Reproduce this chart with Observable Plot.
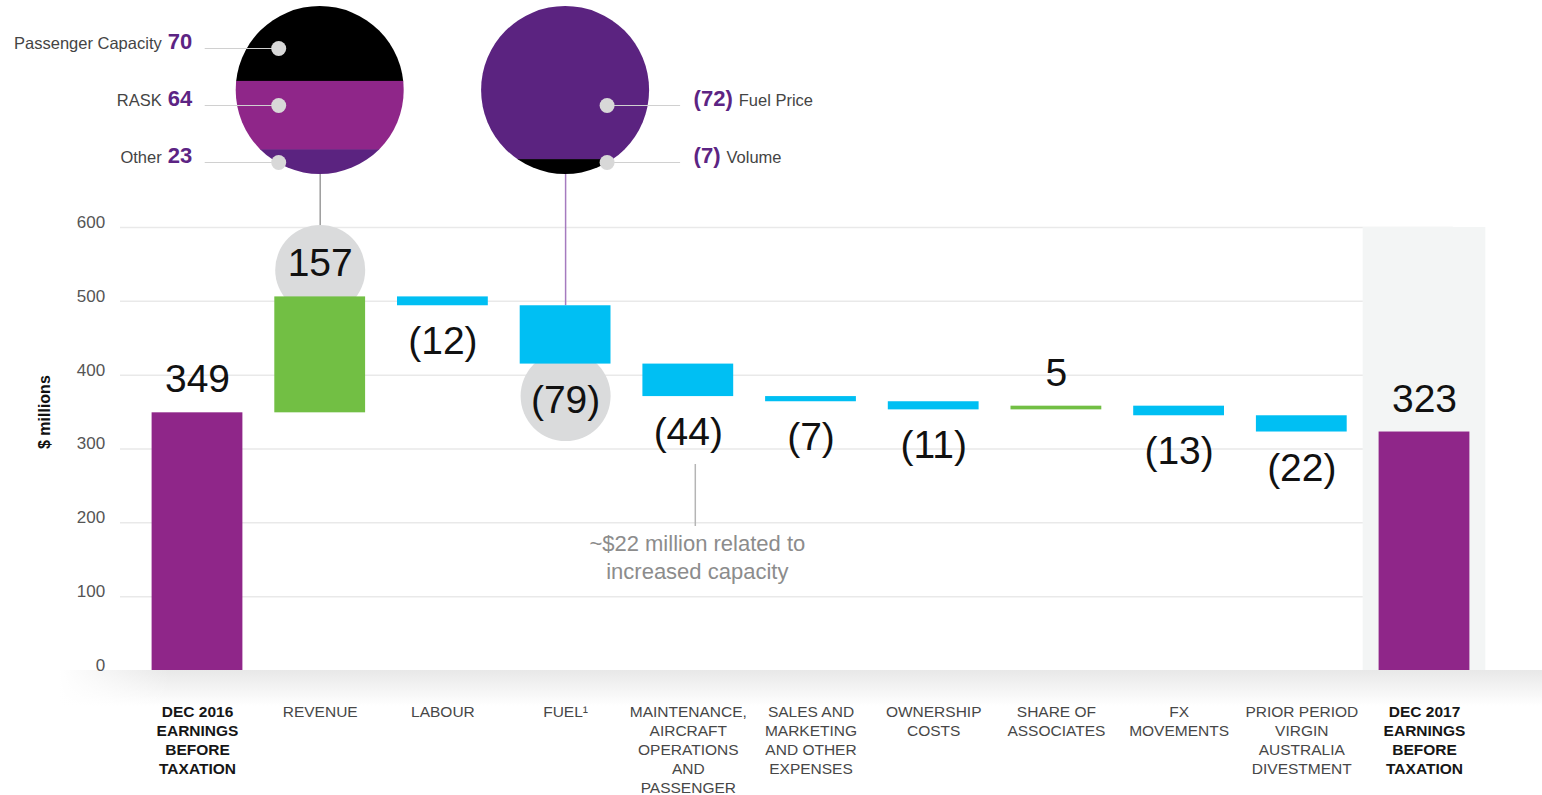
<!DOCTYPE html>
<html>
<head>
<meta charset="utf-8">
<script src="https://cdn.jsdelivr.net/npm/d3@7"></script>
<script src="https://cdn.jsdelivr.net/npm/@observablehq/plot@0.6"></script>
<style>
  html, body { margin: 0; padding: 0; background: #fff; }
  #chart { width: 1542px; height: 795px; overflow: hidden; }
</style>
</head>
<body>
<div id="chart"></div>
<script>
// ---------------- DATA ----------------
const categories = [
  "DEC 2016\nEARNINGS\nBEFORE\nTAXATION",
  "REVENUE",
  "LABOUR",
  "FUEL¹",
  "MAINTENANCE,\nAIRCRAFT\nOPERATIONS\nAND\nPASSENGER",
  "SALES AND\nMARKETING\nAND OTHER\nEXPENSES",
  "OWNERSHIP\nCOSTS",
  "SHARE OF\nASSOCIATES",
  "FX\nMOVEMENTS",
  "PRIOR PERIOD\nVIRGIN\nAUSTRALIA\nDIVESTMENT",
  "DEC 2017\nEARNINGS\nBEFORE\nTAXATION"
];
const kinds = ["total","delta","delta","delta","delta","delta","delta","delta","delta","delta","total"];
const values = [349, 157, -12, -79, -44, -7, -11, 5, -13, -22, 323];
const yTicks = [0, 100, 200, 300, 400, 500, 600];
const circledCategories = ["REVENUE", "FUEL¹"];

const revenueParts = ["Passenger Capacity", "RASK", "Other"];
const revenueValues = [70, 64, 23];
const fuelParts = ["Fuel Price", "Volume"];
const fuelValues = [-72, -7];

const yAxisLabel = "$ millions";
const annotationText = "~$22 million related to\nincreased capacity";
const annotationCategory = categories[4];

// ---------------- LAYOUT / STYLE ----------------
const W = 1542, H = 795;
const ML = 135.65, MR = 56.65, MT = 227, MB = 125;
const PAD = 0.26;
const FONT = "'Liberation Sans', Arial, Helvetica, sans-serif";
const C = {
  total: "#8f2689", pos: "#72bf44", neg: "#00bff3",
  black: "#000000", magenta: "#8f2689", purple: "#5b2380",
  circle: "#dadbdc", grid: "#e9e9e9", tick: "#555555",
  highlight: "#f3f5f5", dot: "#d8d8d8", rowLine: "#d0d0d0",
  valuePurple: "#5c2483"
};
const yS = d3.scaleLinear().domain([0, 600]).range([H - MB, MT]);
const step = (W - ML - MR) / categories.length;
const bw = step * (1 - PAD);
const BUBBLE_CY = 90, BUBBLE_R = 84, ROW_PX = [48, 105, 162];

// ---------------- DERIVED ----------------
let run = 0;
const rows = categories.map((cat, i) => {
  const v = values[i], kind = kinds[i];
  let a, b;
  if (kind === "total") { a = 0; b = v; run = v; }
  else { a = run; b = run + v; run = b; }
  return {cat, v, kind, lo: Math.min(a, b), hi: Math.max(a, b),
    label: v < 0 ? `(${-v})` : `${v}`,
    color: kind === "total" ? C.total : v >= 0 ? C.pos : C.neg};
});
const rowOf = c => rows.find(r => r.cat === c);

const bubbles = [
  {cat: categories[1], parts: revenueParts, vals: revenueValues,
   colors: [C.black, C.magenta, C.purple], side: -1, rowIdx: [0, 1, 2], link: "#9b9b9b"},
  {cat: categories[3], parts: fuelParts, vals: fuelValues,
   colors: [C.purple, C.black], side: 1, rowIdx: [1, 2], link: "#a57bbf"}
];

const stripes = [];
bubbles.forEach((b, k) => {
  const tot = d3.sum(b.vals, Math.abs);
  let acc = 0;
  b.vals.forEach((v, j) => {
    const t = BUBBLE_CY - BUBBLE_R + acc / tot * 2 * BUBBLE_R;
    acc += Math.abs(v);
    const bt = BUBBLE_CY - BUBBLE_R + acc / tot * 2 * BUBBLE_R;
    stripes.push({cat: b.cat, k, y1: yS.invert(bt + (j < b.vals.length - 1 ? 0.5 : 0)), y2: yS.invert(t), color: b.colors[j]});
  });
});

const ctx = document.createElement("canvas").getContext("2d");
ctx.font = `bold 22px ${FONT}`;

const rowItems = bubbles.flatMap(b => b.parts.map((p, j) => ({
  cat: b.cat, side: b.side, name: p,
  valueText: b.vals[j] < 0 ? `(${-b.vals[j]})` : `${b.vals[j]}`,
  y: yS.invert(ROW_PX[b.rowIdx[j]])
})));

const connectors = bubbles.map(b => ({cat: b.cat, y1: yS.invert(BUBBLE_CY + BUBBLE_R), y2: rowOf(b.cat).hi, color: b.link}));

// ---------------- MARKS ----------------
const marks = [];
// floor shadow
marks.push(Plot.rect([0], {y1: () => 0, y2: () => yS.invert(706), fill: "url(#floorGrad)", insetLeft: -(ML - 60), insetRight: -MR}));
marks.push(Plot.rect([0], {y1: () => 0, y2: () => yS.invert(706), fill: "url(#fadeLeft)", insetLeft: -(ML - 58), insetRight: (W - MR) - 170}));
// gridlines
marks.push(Plot.ruleY(yTicks.filter(t => t > 0), {y: d => d, stroke: C.grid, strokeWidth: 1.5, insetLeft: -(ML - 120), insetRight: -(W - MR - 1518)}));
// highlight column
marks.push(Plot.barY([rows[rows.length - 1]], {x: "cat", y1: () => 0, y2: () => 600, fill: C.highlight, insetLeft: -(step - bw) / 2, insetRight: -(step - bw) / 2}));
// y tick labels
marks.push(Plot.text(yTicks, {y: d => d, text: d => String(d), frameAnchor: "left", textAnchor: "end", dx: -31, dy: -5, fontSize: 17, fill: C.tick}));
// y axis label
marks.push(Plot.text([yAxisLabel], {y: () => 300, text: d => d, frameAnchor: "left", dx: -91, rotate: -90, fontSize: 16, fontWeight: "bold", fill: "#111"}));
// connectors
marks.push(Plot.ruleX(connectors, {x: "cat", y1: "y1", y2: "y2", stroke: "color", strokeWidth: 1.5}));
// annotation
marks.push(Plot.ruleX([annotationCategory], {x: d => d, y1: () => yS.invert(464), y2: () => yS.invert(526), dx: 7, stroke: "#b5b5b5", strokeWidth: 1.5}));
marks.push(Plot.text([annotationCategory], {x: d => d, y: () => yS.invert(556), text: () => annotationText, dx: 9, fontSize: 22, lineHeight: 1.27, fill: "#8c8c8c"}));
// gray emphasis circles
marks.push(Plot.dot(rows.filter(r => circledCategories.includes(r.cat) && r.v > 0), {x: "cat", y: "hi", r: 45, fill: C.circle, dy: -27}));
marks.push(Plot.dot(rows.filter(r => circledCategories.includes(r.cat) && r.v < 0), {x: "cat", y: "lo", r: 45, fill: C.circle, dy: 32}));
// bars
marks.push(Plot.barY(rows, {x: "cat", y1: "lo", y2: "hi", fill: "color"}));
// value labels
marks.push(Plot.text(rows.filter(r => r.v >= 0), {x: "cat", y: "hi", text: "label", dy: -33, fontSize: 39, fill: "#111"}));
marks.push(Plot.text(rows.filter(r => r.v < 0), {x: "cat", y: "lo", text: "label", dy: 36, fontSize: 39, fill: "#111"}));
// bubble stripes
marks.push(Plot.barY(stripes, {x: "cat", y1: "y1", y2: "y2", fill: "color", insetLeft: -(BUBBLE_R - bw / 2) - 2, insetRight: -(BUBBLE_R - bw / 2) - 2, ariaDescription: "bubble stripes"}));
// bubble row lines, dots, labels
bubbles.forEach(b => {
  const items = rowItems.filter(d => d.cat === b.cat);
  const inL = b.side < 0 ? bw / 2 - 115 : bw / 2 + 42;
  const inR = b.side < 0 ? bw / 2 + 41 : bw / 2 - 115;
  marks.push(Plot.tickY(items, {x: "cat", y: "y", stroke: C.rowLine, strokeWidth: 1.2, insetLeft: inL, insetRight: inR}));
  marks.push(Plot.dot(items, {x: "cat", y: "y", r: 7.5, fill: C.dot, dx: b.side * 41.5}));
  items.forEach(d => {
    const w = ctx.measureText(d.valueText).width;
    const anchor = b.side < 0 ? "end" : "start";
    marks.push(Plot.text([d], {x: "cat", y: "y", text: "valueText", dx: b.side * 128, dy: 0, lineAnchor: "bottom", textAnchor: anchor, fontSize: 22, fontWeight: "bold", fill: C.valuePurple}));
    marks.push(Plot.text([d], {x: "cat", y: "y", text: "name", dx: b.side * (128 + w + 6), dy: 0, lineAnchor: "bottom", textAnchor: anchor, fontSize: 16.5, fill: "#444"}));
  });
});
// category labels
marks.push(Plot.text(rows.filter(r => r.kind !== "total"), {x: "cat", text: "cat", frameAnchor: "bottom", lineAnchor: "top", dy: 33, fontSize: 15.5, lineHeight: 1.22, fill: "#474747"}));
marks.push(Plot.text(rows.filter(r => r.kind === "total"), {x: "cat", text: "cat", frameAnchor: "bottom", lineAnchor: "top", dy: 33, fontSize: 15.5, lineHeight: 1.22, fontWeight: "bold", fill: "#161616"}));

const chart = Plot.plot({
  width: W, height: H,
  marginLeft: ML, marginRight: MR, marginTop: MT, marginBottom: MB,
  x: {domain: categories, axis: null, round: false, paddingInner: PAD, paddingOuter: PAD / 2},
  y: {domain: [0, 600], axis: null},
  style: {fontFamily: FONT, background: "#fff", overflow: "visible"},
  marks
});

// ---------------- DEFS (gradients, bubble clips) ----------------
const root = d3.select(chart);
const defs = root.insert("defs", ":first-child");
const g1 = defs.append("linearGradient").attr("id", "floorGrad").attr("x1", 0).attr("y1", 0).attr("x2", 0).attr("y2", 1);
g1.append("stop").attr("offset", "0%").attr("stop-color", "#e8e8e8");
g1.append("stop").attr("offset", "100%").attr("stop-color", "#ffffff");
const g2 = defs.append("linearGradient").attr("id", "fadeLeft").attr("x1", 0).attr("y1", 0).attr("x2", 1).attr("y2", 0);
g2.append("stop").attr("offset", "0%").attr("stop-color", "#ffffff").attr("stop-opacity", 1);
g2.append("stop").attr("offset", "100%").attr("stop-color", "#ffffff").attr("stop-opacity", 0);
const xs = chart.scale("x"), ys = chart.scale("y");
bubbles.forEach((b, k) => {
  defs.append("clipPath").attr("id", `bubbleClip${k}`).append("circle")
    .attr("cx", xs.apply(b.cat) + xs.bandwidth / 2)
    .attr("cy", ys.apply(yS.invert(BUBBLE_CY)))
    .attr("r", BUBBLE_R);
});
root.selectAll('g[aria-description="bubble stripes"] rect').each(function () {
  const i = d3.select(this).datum();
  const s = stripes[i];
  if (s) d3.select(this).attr("clip-path", `url(#bubbleClip${s.k})`);
});

document.getElementById("chart").appendChild(chart);
</script>
</body>
</html>
